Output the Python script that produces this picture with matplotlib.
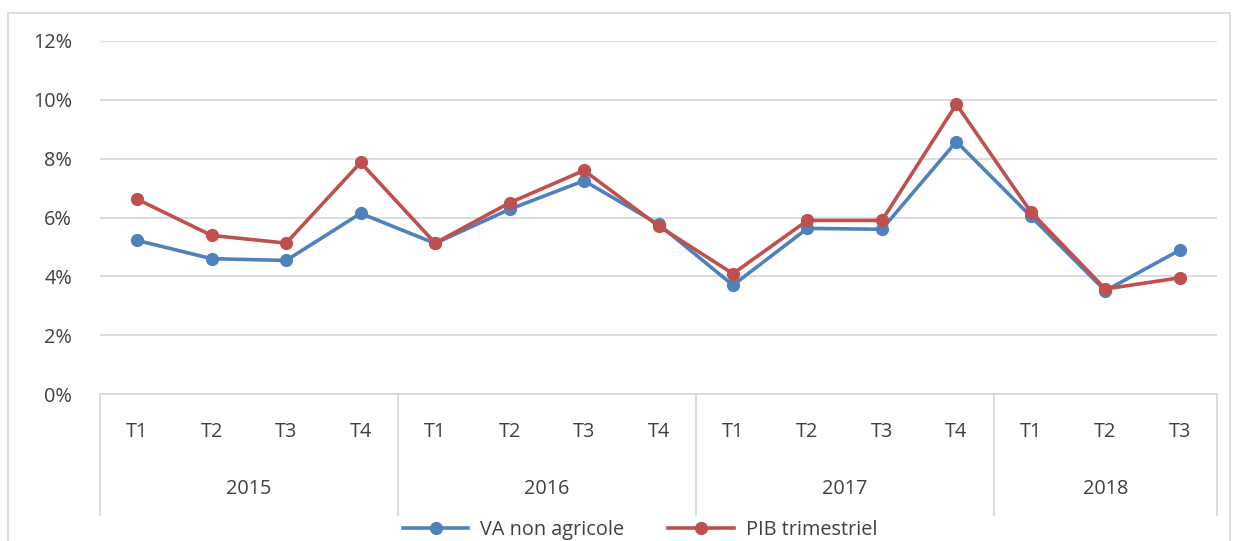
import matplotlib
matplotlib.use("Agg")
import matplotlib.pyplot as plt
import matplotlib.transforms as mtransforms
from matplotlib.patches import Rectangle
from matplotlib.ticker import FuncFormatter

quarters = ["T1", "T2", "T3", "T4", "T1", "T2", "T3", "T4", "T1", "T2", "T3", "T4", "T1", "T2", "T3"]
years = ["2015", "2016", "2017", "2018"]
quarters_per_year = [4, 4, 4, 3]
va_non_agricole = [5.22, 4.60, 4.54, 6.14, 5.12, 6.28, 7.25, 5.77, 3.70, 5.63, 5.60, 8.58, 6.04, 3.51, 4.89]
pib_trimestriel = [6.62, 5.39, 5.13, 7.87, 5.13, 6.50, 7.60, 5.71, 4.09, 5.90, 5.90, 9.85, 6.19, 3.57, 3.95]
series_names = ["VA non agricole", "PIB trimestriel"]
yticks = [0, 2, 4, 6, 8, 10, 12]

W, H = 1235, 541
plt.rcParams['font.family'] = ['Open Sans', 'DejaVu Sans']
text_color = "#404040"
grid_color = "#d9d9d9"
fs = 14.3

fig = plt.figure(figsize=(W / 100, H / 100), dpi=100)
left, right, top, bottom = 100, 1217, 41, 394
ax = fig.add_axes([left / W, 1 - bottom / H, (right - left) / W, (bottom - top) / H])

x = list(range(len(quarters)))
l1, = ax.plot(x, va_non_agricole, color="#4F81BD", lw=2.6, marker="o", ms=8.5, label=series_names[0], zorder=3)
l2, = ax.plot(x, pib_trimestriel, color="#C0504D", lw=2.6, marker="o", ms=8.5, label=series_names[1], zorder=4)

ax.set_xlim(-0.5, len(quarters) - 0.5)
ax.set_ylim(0, 12)
ax.set_yticks(yticks)
ax.yaxis.set_major_formatter(FuncFormatter(lambda v, p: f"{v:.0f}%"))
ax.grid(axis="y", color=grid_color, lw=1.3)
ax.set_axisbelow(True)
for s in ["top", "right", "left"]:
    ax.spines[s].set_visible(False)
ax.spines["bottom"].set_color(grid_color)
ax.spines["bottom"].set_linewidth(1.3)
ax.tick_params(axis="y", length=0, pad=20, labelsize=fs, labelcolor=text_color)
ax.set_xticks(x)
ax.set_xticklabels(quarters)
ax.tick_params(axis="x", length=0, pad=20, labelsize=fs, labelcolor=text_color)

trans = mtransforms.blended_transform_factory(ax.transData, ax.transAxes)
ax_h = bottom - top
sep_bottom = -(515 - bottom) / ax_h
year_y = -(489 - bottom) / ax_h
start = 0
bounds = [-0.5]
for yr, n in zip(years, quarters_per_year):
    end = start + n
    ax.text((start + end - 1) / 2, year_y, yr, transform=trans, ha="center", va="center",
            fontsize=fs, color=text_color)
    bounds.append(end - 0.5)
    start = end
for b in bounds:
    ax.plot([b, b], [0, sep_bottom], transform=trans, color=grid_color, lw=1.3, clip_on=False)

fig.legend(handles=[l1, l2], loc="center", bbox_to_anchor=(640 / W, 1 - 530 / H), ncol=2,
           frameon=False, fontsize=fs, labelcolor=text_color, handlelength=3.3, columnspacing=2.2,
           handletextpad=0.6)

fig.patches.append(Rectangle((8 / W, -0.1), (1230 - 8) / W, 1 - 13 / H + 0.1, transform=fig.transFigure,
                             fill=False, edgecolor=grid_color, lw=1.3))

fig.savefig("out.png", dpi=100)
